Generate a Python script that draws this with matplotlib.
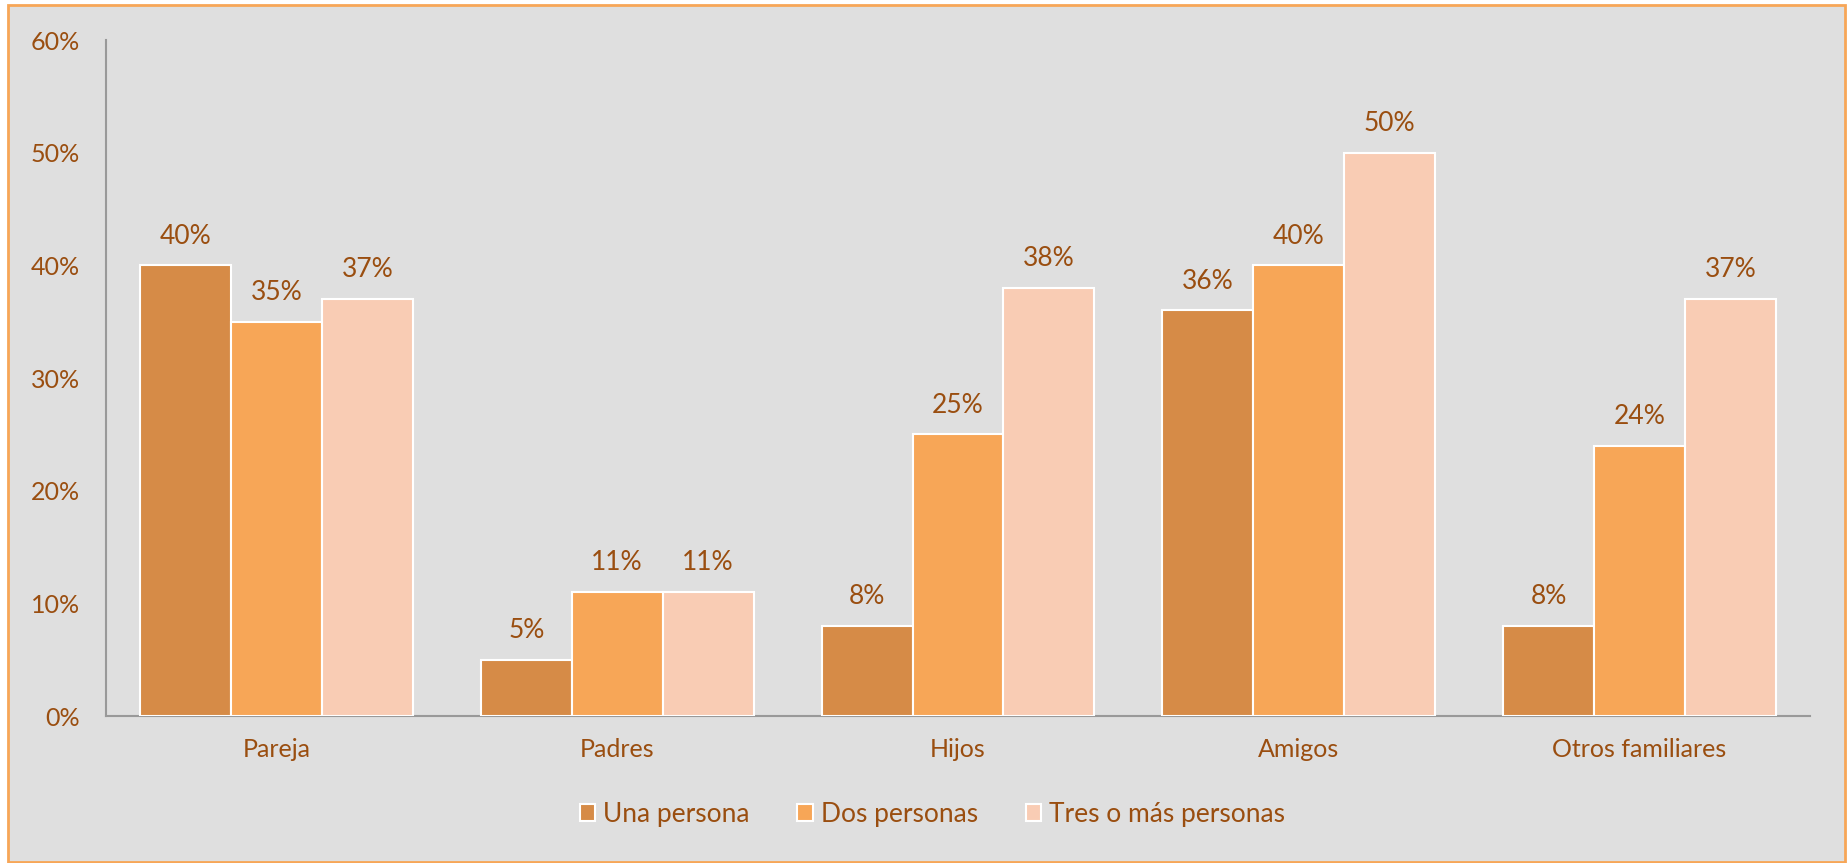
import numpy as np
import matplotlib.pyplot as plt
from matplotlib.patches import Rectangle

# Data
categories = ['Pareja', 'Padres', 'Hijos', 'Amigos', 'Otros familiares']
series_names = ['Una persona', 'Dos personas', 'Tres o más personas']
una = [40, 5, 8, 36, 8]
dos = [35, 11, 25, 40, 24]
tres = [37, 11, 38, 50, 37]
yticks = [0, 10, 20, 30, 40, 50, 60]

colors = ['#D68B47', '#F7A657', '#F9CCB4']
text_col = '#9A4E10'
bg = '#DFDFDF'

plt.rcParams['font.family'] = ['Lato', 'DejaVu Sans']

fig = plt.figure(figsize=(18.49, 8.63), dpi=100)
fig.patch.set_facecolor('white')
# orange frame around the chart (drawn behind the axes)
fig.patches.append(Rectangle((8 / 1849, 1 / 863), 1837 / 1849, 857 / 863,
                             transform=fig.transFigure, facecolor=bg,
                             edgecolor='#F7A657', linewidth=2, zorder=-10))

ax = fig.add_axes([106 / 1849, 1 - 716 / 863, 1704 / 1849, 676 / 863])
ax.set_facecolor('none')

x = np.arange(len(categories))
w = 0.8 / 3
for i, vals in enumerate([una, dos, tres]):
    pos = x + (i - 1) * w
    bars = ax.bar(pos, vals, width=w, color=colors[i], edgecolor='white',
                  linewidth=1.5, label=series_names[i], zorder=3)
    for b, v in zip(bars, vals):
        ax.annotate(f'{v}%', (b.get_x() + b.get_width() / 2, v),
                    xytext=(0, 12), textcoords='offset points',
                    ha='center', va='bottom', fontsize=19, color=text_col)

ax.set_xlim(-0.5, 4.5)
ax.set_ylim(0, 60)
ax.set_yticks(yticks)
ax.set_yticklabels([f'{t}%' for t in yticks])
ax.set_xticks(x)
ax.set_xticklabels(categories)
ax.tick_params(axis='both', length=0, labelsize=18, labelcolor=text_col)
ax.tick_params(axis='y', pad=19)
ax.tick_params(axis='x', pad=16)
for s in ['top', 'right']:
    ax.spines[s].set_visible(False)
for s in ['left', 'bottom']:
    ax.spines[s].set_color('#999999')
    ax.spines[s].set_linewidth(1.5)

leg = ax.legend(loc='center', bbox_to_anchor=(0.485, -0.145), ncol=3,
                frameon=False, fontsize=19, handlelength=0.6, handleheight=0.6,
                handletextpad=0.3, columnspacing=1.8)
for t in leg.get_texts():
    t.set_color(text_col)

fig.savefig('out.png', dpi=100)
